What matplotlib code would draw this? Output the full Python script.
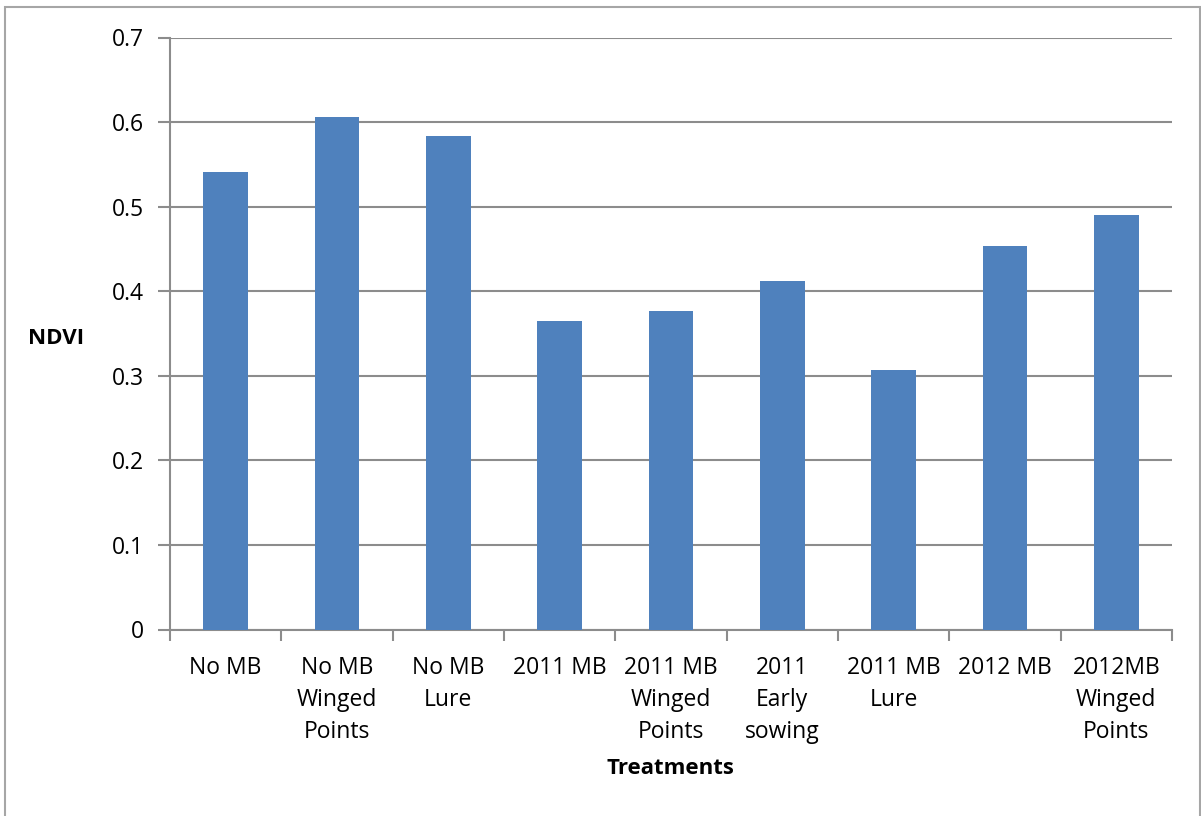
import matplotlib
matplotlib.use("Agg")
import matplotlib.pyplot as plt
from matplotlib.patches import Rectangle

categories = ["No MB", "No MB\nWinged\nPoints", "No MB\nLure", "2011 MB",
              "2011 MB\nWinged\nPoints", "2011\nEarly\nsowing", "2011 MB\nLure",
              "2012 MB", "2012MB\nWinged\nPoints"]
ndvi = [0.541, 0.606, 0.583, 0.365, 0.377, 0.412, 0.307, 0.453, 0.490]
yticks = [0, 0.1, 0.2, 0.3, 0.4, 0.5, 0.6, 0.7]
ytick_labels = ["0", "0.1", "0.2", "0.3", "0.4", "0.5", "0.6", "0.7"]

plt.rcParams["font.family"] = ["Open Sans", "DejaVu Sans"]

W, H = 1201, 816
fig = plt.figure(figsize=(W / 100, H / 100), dpi=100)
fig.patch.set_facecolor("white")

# outer chart-area border
fig.patches.append(Rectangle((4.5 / W, -0.05), (1199.5 - 4.5) / W, 1.05 - 6.5 / H,
                             transform=fig.transFigure, fill=False,
                             edgecolor="#a6a6a6", linewidth=1.5, zorder=0))

ax = fig.add_axes([170 / W, 1 - 629.5 / H, (1172 - 170) / W, (629.5 - 37.5) / H])
x = list(range(len(categories)))
ax.bar(x, ndvi, width=0.40, color="#4f81bd", zorder=3)

ax.set_xlim(-0.5, len(categories) - 0.5)
ax.set_ylim(0, 0.7)
ax.set_yticks(yticks)
ax.set_yticklabels(ytick_labels, fontsize=16.5)
ax.yaxis.grid(True, color="#8c8c8c", linewidth=1.5, zorder=1)

ax.set_xticks(x)
ax.set_xticklabels(categories, fontsize=16.5, linespacing=1.45, va="top")
ax.tick_params(axis="x", length=0, pad=19)
# category boundary ticks
ax.set_xticks([i - 0.5 for i in range(len(categories) + 1)], minor=True)
ax.tick_params(axis="x", which="minor", length=8, width=1.5, color="#8c8c8c", direction="out")
ax.tick_params(axis="y", length=9, width=1.5, color="#8c8c8c", pad=10)

for side in ("top", "right"):
    ax.spines[side].set_visible(False)
for side in ("left", "bottom"):
    ax.spines[side].set_color("#8c8c8c")
    ax.spines[side].set_linewidth(1.5)

fig.text(56 / W, 1 - 338 / H, "NDVI", fontsize=16, fontweight="bold",
         ha="center", va="center")
fig.text(670 / W, 1 - 769 / H, "Treatments", fontsize=16, fontweight="bold",
         ha="center", va="center")

fig.savefig("out.png", dpi=100)
